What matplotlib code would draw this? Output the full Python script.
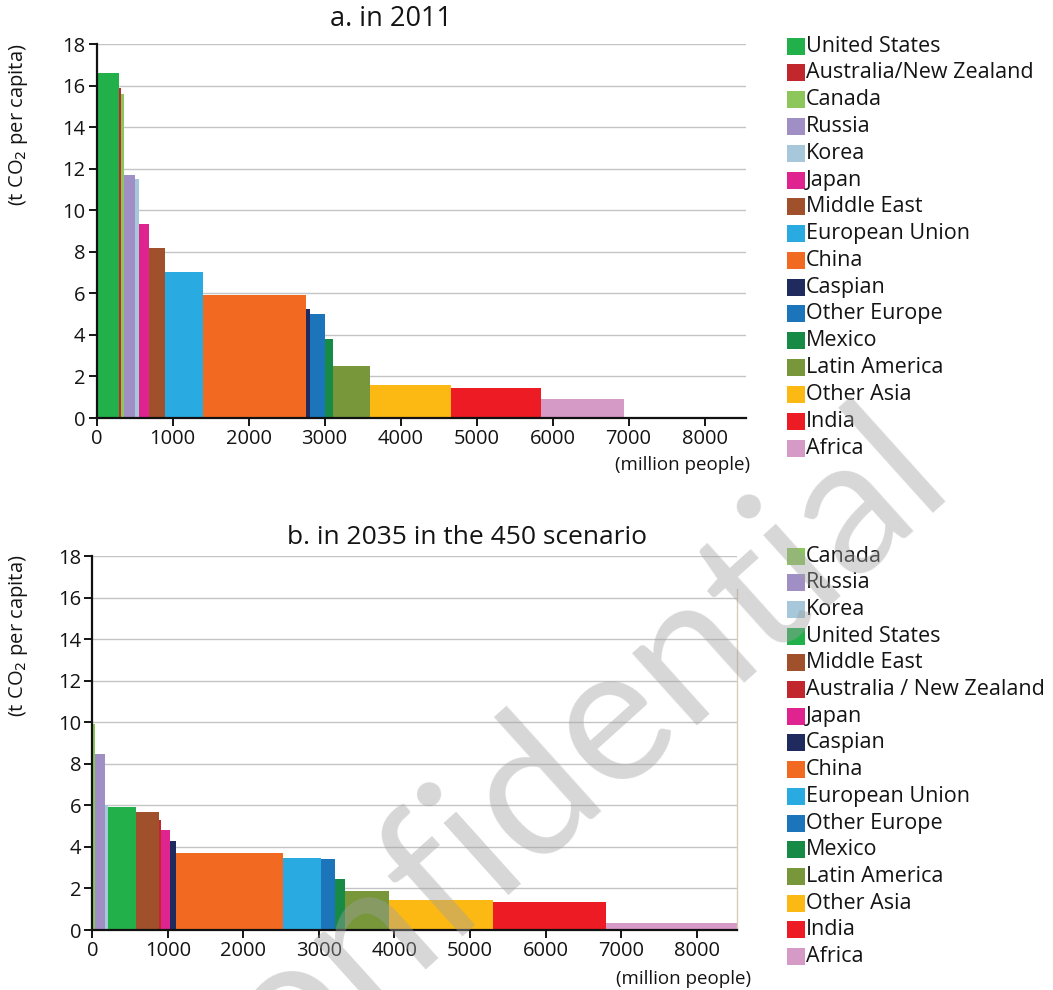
import numpy as np
import matplotlib
matplotlib.use('Agg')
import matplotlib.pyplot as plt
from matplotlib.patches import Rectangle

plt.rcParams['font.family'] = ['Open Sans', 'DejaVu Sans']

colors = {
    'United States': '#22b04b',
    'Australia/New Zealand': '#c1272d',
    'Australia / New Zealand': '#c1272d',
    'Canada': '#8dc65a',
    'Russia': '#a08fc4',
    'Korea': '#a6c8da',
    'Japan': '#e0248f',
    'Middle East': '#a0502a',
    'European Union': '#29abe2',
    'China': '#f26a22',
    'Caspian': '#1f2a5e',
    'Other Europe': '#1c74bb',
    'Mexico': '#178a45',
    'Latin America': '#77973a',
    'Other Asia': '#fdb913',
    'India': '#ed1c24',
    'Africa': '#d69ac6',
}

# a. 2011
regions_2011 = ['United States', 'Australia/New Zealand', 'Canada', 'Russia', 'Korea', 'Japan',
                'Middle East', 'European Union', 'China', 'Caspian', 'Other Europe', 'Mexico',
                'Latin America', 'Other Asia', 'India', 'Africa']
pop_2011 = [300, 25, 35, 145, 50, 130, 210, 505, 1350, 55, 200, 110, 480, 1075, 1180, 1085]
co2_2011 = [16.6, 15.9, 15.6, 11.7, 11.5, 9.35, 8.2, 7.05, 5.9, 5.25, 5.0, 3.8, 2.5, 1.6, 1.45, 0.9]

# b. 2035, 450 scenario
regions_2035 = ['Canada', 'Russia', 'Korea', 'United States', 'Middle East', 'Australia / New Zealand',
                'Japan', 'Caspian', 'China', 'European Union', 'Other Europe', 'Mexico',
                'Latin America', 'Other Asia', 'India', 'Africa']
pop_2035 = [30, 135, 40, 375, 300, 30, 120, 75, 1415, 505, 185, 130, 590, 1375, 1500, 1900]
co2_2035 = [9.9, 8.45, 6.0, 5.9, 5.7, 5.3, 4.8, 4.3, 3.7, 3.45, 3.4, 2.45, 1.9, 1.45, 1.35, 0.35]

W, H = 1053, 990
TXT = '#141414'
fig = plt.figure(figsize=(W / 100, H / 100), dpi=100)


def fx(x):
    return x / W


def fy(y):
    return 1 - y / H


def px_axes(l, t, r, b):
    return fig.add_axes([fx(l), fy(b), (r - l) / W, (b - t) / H])


def draw(ax, regions, pops, vals, xmax):
    lefts = np.concatenate([[0], np.cumsum(pops)[:-1]])
    ax.bar(lefts, vals, width=pops, align='edge',
           color=[colors[r] for r in regions], linewidth=0, zorder=2)
    ax.set_xlim(0, xmax)
    ax.set_ylim(0, 18)
    ax.set_xticks(range(0, 9000, 1000))
    ax.set_yticks(range(0, 19, 2))
    ax.yaxis.grid(True, color='#c4c4c4', linewidth=1, zorder=0)
    ax.set_axisbelow(True)
    for s in ['top', 'right']:
        ax.spines[s].set_visible(False)
    for s in ['left', 'bottom']:
        ax.spines[s].set_linewidth(1.6)
        ax.spines[s].set_color('#111111')
    ax.tick_params(direction='out', length=6, width=1.4, labelsize=14.5, colors=TXT, pad=2)


def legend(regions, y0, step):
    for i, r in enumerate(regions):
        yc = y0 + i * step
        fig.add_artist(Rectangle((fx(787), fy(yc + 8.5)), 18 / W, 17 / H,
                                 transform=fig.transFigure, facecolor=colors[r], edgecolor='none'))
        fig.text(fx(806), fy(yc), r, ha='left', va='center', fontsize=15.5, color=TXT)


ax1 = px_axes(96.5, 44, 746, 418)
draw(ax1, regions_2011, pop_2011, co2_2011, 8546)

ax2 = px_axes(92.3, 556, 736.7, 930)
draw(ax2, regions_2035, pop_2035, co2_2035, 8530)
ax2.spines['right'].set_visible(True)
ax2.spines['right'].set_bounds(0, 16.4)
ax2.spines['right'].set_color('#d8ccb8')
ax2.spines['right'].set_linewidth(1)

# titles and labels
fig.text(fx(391), fy(19), 'a. in 2011', ha='center', va='center', fontsize=19.5, color=TXT)
fig.text(fx(467), fy(537), 'b. in 2035 in the 450 scenario', ha='center', va='center',
         fontsize=19, color=TXT)
fig.text(fx(750), fy(465), '(million people)', ha='right', va='center', fontsize=13.5, color=TXT)
fig.text(fx(751), fy(979), '(million people)', ha='right', va='center', fontsize=13.5, color=TXT)
fig.text(fx(19), fy(125), '(t CO$_2$ per capita)', rotation=90, ha='center', va='center',
         fontsize=14.5, color=TXT)
fig.text(fx(19), fy(636), '(t CO$_2$ per capita)', rotation=90, ha='center', va='center',
         fontsize=14.5, color=TXT)

legend(regions_2011, 46, 26.8)
legend(regions_2035, 556, 26.7)

# watermark
fig.text(fx(955), fy(485), 'Confidential', rotation=42, rotation_mode='anchor', ha='right',
         va='baseline', fontsize=138, family=['Lato', 'DejaVu Sans'],
         color='#a0a0a0', alpha=0.42, zorder=10)

fig.savefig('out.png', dpi=100)
